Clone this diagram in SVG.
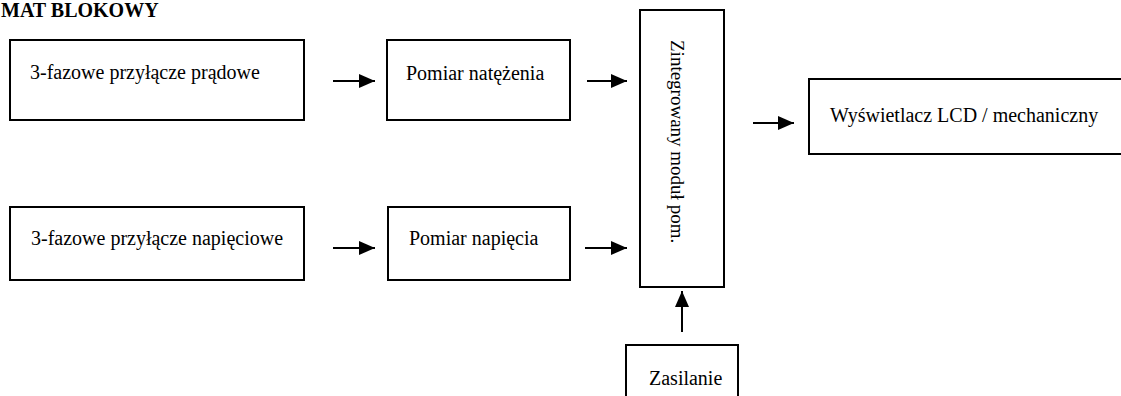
<svg xmlns="http://www.w3.org/2000/svg" width="1121" height="396" viewBox="0 0 1121 396">
<style>
.box{fill:#fff;stroke:#000;stroke-width:2}
.t{font-family:"Liberation Serif","Times New Roman",serif;font-size:20px;fill:#000}
.title{font-family:"Liberation Serif","Times New Roman",serif;font-size:20px;font-weight:bold;fill:#000}
.c{stroke:#000;stroke-width:2;fill:none}
</style>
<defs>
<marker id="ah" markerUnits="userSpaceOnUse" markerWidth="18" markerHeight="14" refX="16" refY="7" orient="auto">
<path d="M0,0 L16,7 L0,14 Z" fill="#000"/>
</marker>
</defs>
<rect width="1121" height="396" fill="#fff"/>
<text class="title" x="1" y="17">MAT BLOKOWY</text>
<g id="n1"><rect class="box" x="10" y="40" width="294" height="80"/><text class="t" x="30" y="79">3-fazowe przyłącze prądowe</text></g>
<g id="n2"><rect class="box" x="387" y="40" width="183" height="80"/><text class="t" x="406" y="80">Pomiar natężenia</text></g>
<g id="n3"><rect class="box" x="10" y="207" width="294" height="73"/><text class="t" x="31" y="245">3-fazowe przyłącze napięciowe</text></g>
<g id="n4"><rect class="box" x="388" y="207" width="182" height="73"/><text class="t" x="409" y="245">Pomiar napięcia</text></g>
<g id="n5"><rect class="box" x="640" y="10" width="84" height="277"/><text class="t" style="font-size:19px" transform="translate(671,40) rotate(90)">Zintegrowany moduł pom.</text></g>
<g id="n6"><rect class="box" x="809" y="79" width="320" height="75"/><text class="t" x="830" y="122">Wyświetlacz LCD / mechaniczny</text></g>
<g id="n7"><rect class="box" x="626" y="345" width="112" height="60"/><text class="t" x="649" y="385">Zasilanie</text></g>
<g id="connectors">
<line class="c" x1="333" y1="81" x2="375" y2="81" marker-end="url(#ah)"/>
<line class="c" x1="587" y1="81" x2="627" y2="81" marker-end="url(#ah)"/>
<line class="c" x1="753" y1="123" x2="794" y2="123" marker-end="url(#ah)"/>
<line class="c" x1="333" y1="248" x2="375" y2="248" marker-end="url(#ah)"/>
<line class="c" x1="585" y1="248" x2="627" y2="248" marker-end="url(#ah)"/>
<line class="c" x1="682" y1="332" x2="682" y2="291" marker-end="url(#ah)"/>
</g>
</svg>
